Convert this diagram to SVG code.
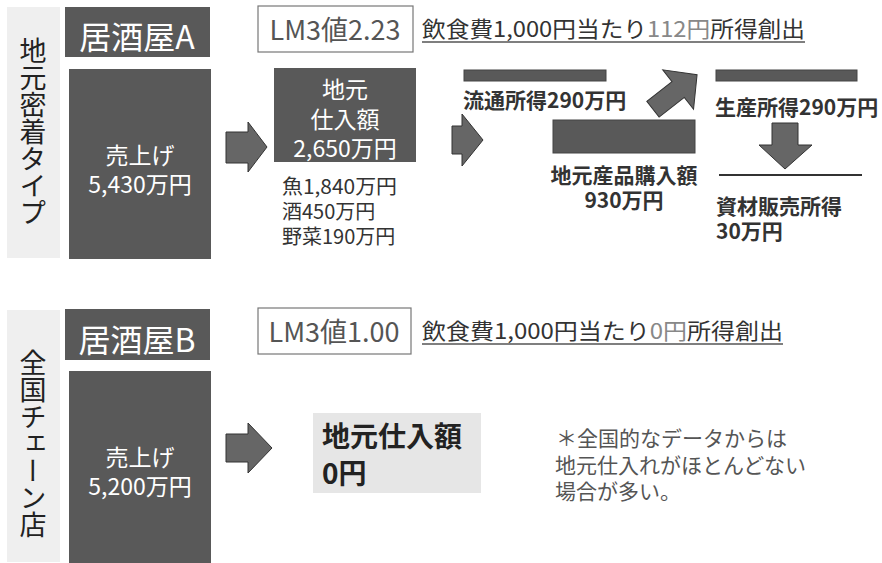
<svg xmlns="http://www.w3.org/2000/svg" width="882" height="563" viewBox="0 0 882 563">
<style>
text{font-family:"Noto Sans CJK JP","Noto Sans",sans-serif;}
.side{fill:#efefef;}
.dark{fill:#595959;}
.wt{fill:#ffffff;font-size:23px;text-anchor:middle;}
.title{fill:#ffffff;font-size:32px;text-anchor:middle;}
.vert{font-size:27px;fill:#222;writing-mode:vertical-rl;}
.lm{fill:#ffffff;stroke:#777;stroke-width:1.2;}
.lmt{fill:#555;font-size:27px;text-anchor:middle;}
.under{fill:#333;font-size:22px;}
.ul{stroke:#555;stroke-width:1.5;}
.lbl{fill:#333;font-size:21px;font-weight:700;}
.lst{fill:#333;font-size:20px;}
.arrow{fill:#666;stroke:#333;stroke-width:1;}
.bar{fill:#595959;stroke:#444;stroke-width:1;}
.note{fill:#555;font-size:21px;}
</style>

<!-- Top section: 居酒屋A -->
<g id="side-a">
<rect class="side" x="7" y="7" width="53" height="251"/>
<text class="vert" x="33" y="37">地元密着タイプ</text>
</g>
<g id="title-a">
<rect class="dark" x="65" y="7" width="145" height="50"/>
<text class="title" x="137" y="49">居酒屋A</text>
</g>
<g id="sales-a">
<rect class="dark" x="69" y="69" width="142" height="190"/>
<text class="wt" x="140" y="164">売上げ</text>
<text class="wt" x="140" y="193">5,430万円</text>
</g>
<g id="lm3-a">
<rect class="lm" x="258" y="6" width="155" height="46"/>
<text class="lmt" x="335" y="40">LM3値2.23</text>
</g>
<g id="income-a">
<text class="under" x="422" y="37" textLength="383" lengthAdjust="spacingAndGlyphs">飲食費1,000円当たり<tspan fill="#888">112円</tspan>所得創出</text>
<line class="ul" x1="422" y1="42" x2="805" y2="42"/>
</g>
<g id="local-purchase-a">
<rect class="dark" x="274" y="68" width="142" height="94"/>
<text class="wt" x="345" y="98">地元</text>
<text class="wt" x="345" y="128">仕入額</text>
<text class="wt" x="345" y="157">2,650万円</text>
<text class="lst" x="282" y="194" textLength="115" lengthAdjust="spacingAndGlyphs">魚1,840万円</text>
<text class="lst" x="282" y="219">酒450万円</text>
<text class="lst" x="282" y="244">野菜190万円</text>
</g>
<g id="distribution">
<rect class="bar" x="464" y="70" width="142" height="11"/>
<text class="lbl" x="463" y="108">流通所得290万円</text>
</g>
<g id="local-products">
<rect class="bar" x="553" y="120" width="142" height="33"/>
<text class="lbl" x="624" y="183" text-anchor="middle">地元産品購入額</text>
<text class="lbl" x="624" y="208" text-anchor="middle">930万円</text>
</g>
<g id="production">
<rect class="bar" x="716" y="70" width="141" height="11"/>
<text class="lbl" x="715" y="115">生産所得290万円</text>
</g>
<g id="materials">
<line x1="719" y1="175" x2="862" y2="175" stroke="#333" stroke-width="2"/>
<text class="lbl" x="716" y="214">資材販売所得</text>
<text class="lbl" x="716" y="239">30万円</text>
</g>

<!-- Bottom section: 居酒屋B -->
<g id="side-b">
<rect class="side" x="7" y="310" width="53" height="252"/>
<text class="vert" x="33" y="349">全国チェーン店</text>
</g>
<g id="title-b">
<rect class="dark" x="65" y="309" width="145" height="51"/>
<text class="title" x="137" y="352">居酒屋B</text>
</g>
<g id="sales-b">
<rect class="dark" x="69" y="371" width="142" height="192"/>
<text class="wt" x="140" y="466">売上げ</text>
<text class="wt" x="140" y="495">5,200万円</text>
</g>
<g id="lm3-b">
<rect class="lm" x="258" y="308" width="153" height="46"/>
<text class="lmt" x="334" y="342">LM3値1.00</text>
</g>
<g id="income-b">
<text class="under" x="422" y="339" textLength="361" lengthAdjust="spacingAndGlyphs">飲食費1,000円当たり<tspan fill="#888">0円</tspan>所得創出</text>
<line class="ul" x1="422" y1="344" x2="783" y2="344"/>
</g>
<g id="local-purchase-b">
<rect fill="#e6e6e6" x="313" y="413" width="168" height="80"/>
<text x="322" y="447" font-size="28" font-weight="700" fill="#222">地元仕入額</text>
<text x="322" y="484" font-size="28" font-weight="700" fill="#222">0円</text>
</g>
<g id="note-b">
<text class="note" x="556" y="446">＊全国的なデータからは</text>
<text class="note" x="555" y="473">地元仕入れがほとんどない</text>
<text class="note" x="555" y="499">場合が多い。</text>
</g>

<!-- Connectors -->
<g id="connectors">
<polygon class="arrow" points="226,132 248,132 248,122 267,147 248,172 248,163 226,163"/>
<polygon class="arrow" points="452,126 462,126 462,114 483,140 462,166 462,154 452,154"/>
<polygon class="arrow" points="-28,-10 4,-10 4,-25 28,0 4,25 4,10 -28,10" transform="translate(675,92) rotate(-38)"/>
<polygon class="arrow" points="772,123 798,123 798,145 812,145 785,169 759,145 772,145"/>
<polygon class="arrow" points="226,434 248,434 248,423 272,448 248,473 248,462 226,462"/>
</g>
</svg>
